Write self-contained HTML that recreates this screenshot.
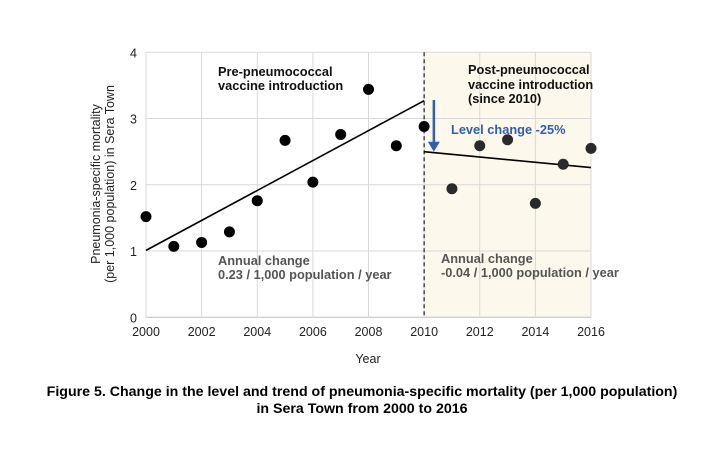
<!DOCTYPE html>
<html><head><meta charset="utf-8"><style>
body{margin:0;background:#fff;}
svg text{font-family:"Liberation Sans",Arial,sans-serif;}
</style></head><body>
<svg width="724" height="448">
<g id="g"></g>
</svg>
<script>
const years=[2000,2001,2002,2003,2004,2005,2006,2007,2008,2009,2010,2011,2012,2013,2014,2015,2016];
const mortality=[1.52,1.07,1.13,1.29,1.76,2.67,2.04,2.76,3.44,2.59,2.88,1.94,2.59,2.68,1.72,2.31,2.55];
const preTrend=[[2000,1.01],[2010,3.27]];
const postTrend=[[2010,2.50],[2016,2.26]];
const xTicks=[2000,2002,2004,2006,2008,2010,2012,2014,2016];
const yTicks=[0,1,2,3,4];
const X=v=>146+(v-2000)*(445/16);
const Y=v=>317.3-v*66.25;
const g=document.getElementById('g');
const NS='http://www.w3.org/2000/svg';
function mk(t,a,txt){const e=document.createElementNS(NS,t);for(const k in a)e.setAttribute(k,a[k]);if(txt!==undefined)e.textContent=txt;g.appendChild(e);return e;}
let e;
e=mk('rect',{x:X(2010),y:Y(4),width:X(2016)-X(2010),height:Y(0)-Y(4),fill:'#fcf8ec'});

yTicks.forEach(v=>{e=mk('line',{x1:X(2000),x2:X(2016),y1:Y(v),y2:Y(v),stroke:v?'#d9d9d9':'#bfbfbf'});

e=mk('text',{x:137,y:Y(v)+5,'text-anchor':'end','font-size':12.5,fill:'#222'},v);
});
xTicks.forEach(v=>{e=mk('line',{x1:X(v),x2:X(v),y1:Y(4),y2:Y(0),stroke:'#d9d9d9'});

e=mk('text',{x:X(v),y:336,'text-anchor':'middle','font-size':12.5,fill:'#222'},v);
});
e=mk('line',{x1:X(2010),x2:X(2010),y1:Y(4),y2:Y(0),stroke:'#222','stroke-dasharray':'4,3','stroke-width':1.2});

[preTrend,postTrend].forEach((t,i)=>{e=mk('line',{x1:X(t[0][0]),y1:Y(t[0][1]),x2:X(t[1][0]),y2:Y(t[1][1]),stroke:'#000','stroke-width':1.6});
});
years.forEach((y,i)=>{e=mk('circle',{cx:X(y),cy:Y(mortality[i]),r:5.5,fill:y>2010?'#2a2a2a':'#000'});
});
e=mk('line',{x1:X(2010.35),x2:X(2010.35),y1:Y(3.28),y2:Y(2.62),stroke:'#2e5fb0','stroke-width':2.5});

e=mk('polygon',{points:`${X(2010.35)-6},${Y(2.65)} ${X(2010.35)+6},${Y(2.65)} ${X(2010.35)},${Y(2.5)}`,fill:'#2e5fb0'});

const texts=[
['pre-label-1',218,72,'Pre-pneumococcal','#111'],['pre-label-2',218,86,'vaccine introduction','#111'],
['post-label-1',468,70,'Post-pneumococcal','#111'],['post-label-2',468,85,'vaccine introduction','#111'],['post-label-3',468,99,'(since 2010)','#111'],
['level-change-label',451,130,'Level change -25%','#2e5fb0'],
['pre-annual-1',218,261,'Annual change','#555'],['pre-annual-2',218,275,'0.23 / 1,000 population / year','#555'],
['post-annual-1',441,259,'Annual change','#555'],['post-annual-2',441,273,'-0.04 / 1,000 population / year','#555']];
texts.forEach(t=>{e=mk('text',{x:t[1],y:t[2]+4,'font-size':12.8,'font-weight':'bold',fill:t[4]},t[3]);
});
e=mk('text',{x:368,y:363,'text-anchor':'middle','font-size':12.5,fill:'#222'},'Year');

e=mk('text',{transform:'translate(100,184) rotate(-90)','text-anchor':'middle','font-size':12.5,fill:'#222'},'Pneumonia-specific mortality');

e=mk('text',{transform:'translate(114,184) rotate(-90)','text-anchor':'middle','font-size':12.5,fill:'#222'},'(per 1,000 population) in Sera Town');

e=mk('text',{x:362,y:396,'text-anchor':'middle','font-size':14.2,'font-weight':'bold',fill:'#000'},'Figure 5. Change in the level and trend of pneumonia-specific mortality (per 1,000 population)');

e=mk('text',{x:362,y:413,'text-anchor':'middle','font-size':14.2,'font-weight':'bold',fill:'#000'},'in Sera Town from 2000 to 2016');

</script>
</body></html>
